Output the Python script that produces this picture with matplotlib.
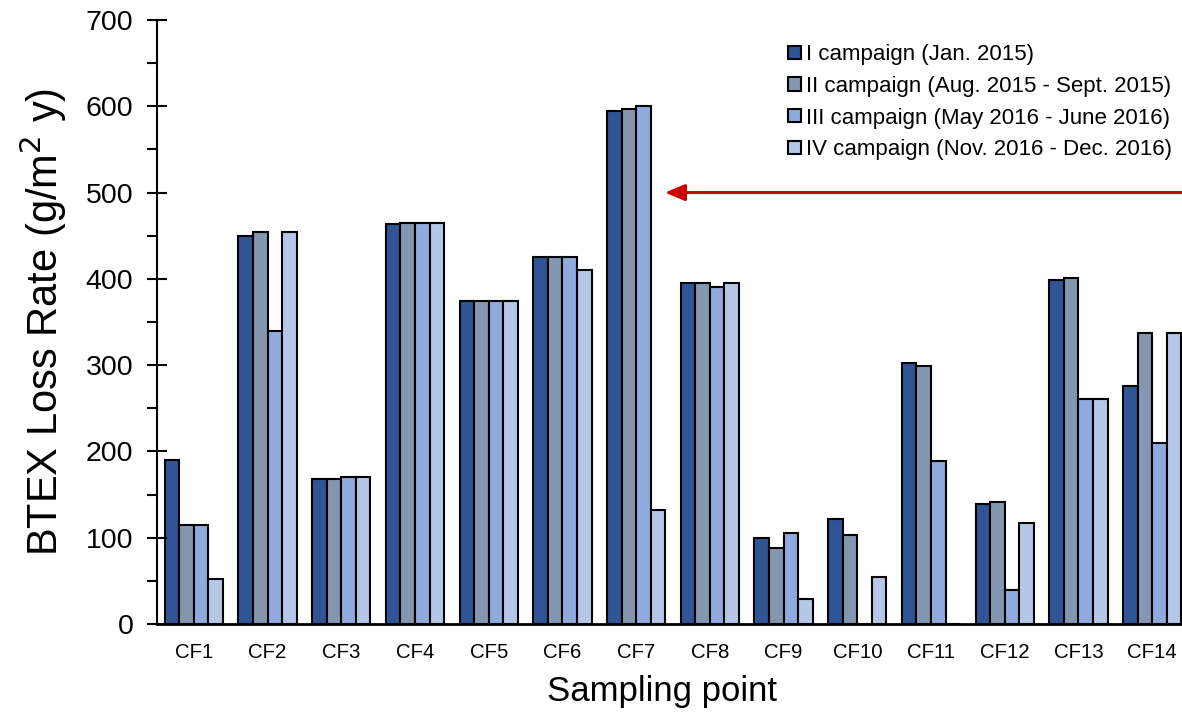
import matplotlib.pyplot as plt
import numpy as np

plt.rcParams['font.family'] = ['Liberation Sans', 'DejaVu Sans']

sites = ["CF1", "CF2", "CF3", "CF4", "CF5", "CF6", "CF7",
         "CF8", "CF9", "CF10", "CF11", "CF12", "CF13", "CF14"]

camp1 = [190, 450, 168, 463, 374, 425, 595, 395, 100, 122, 303, 139, 399, 276]
camp2 = [115, 454, 168, 465, 374, 425, 597, 395, 88, 103, 299, 141, 401, 337]
camp3 = [115, 340, 170, 465, 374, 425, 600, 391, 105, 0, 189, 39, 261, 210]
camp4 = [52, 454, 170, 465, 374, 410, 132, 395, 29, 54, 0, 117, 261, 337]

labels = ["I campaign (Jan. 2015)",
          "II campaign (Aug. 2015 - Sept. 2015)",
          "III campaign (May 2016 - June 2016)",
          "IV campaign (Nov. 2016 - Dec. 2016)"]
colors = ["#2F5597", "#8497B0", "#8FAADC", "#B4C7E7"]

fig = plt.figure(figsize=(11.82, 7.17), dpi=100)
# plot runs a little past the right edge of the figure
ax = fig.add_axes([157 / 1182, 93 / 717, 1032 / 1182, 604 / 717])

x = np.arange(len(sites))
w = 0.198
for i, (vals, lab, c) in enumerate(zip([camp1, camp2, camp3, camp4], labels, colors)):
    ax.bar(x + (i - 1.5) * w, vals, width=w, color=c, edgecolor="black",
           linewidth=1.5, label=lab)

ax.set_xlim(-0.5, 13.5)
ax.set_ylim(0, 700)
ax.set_yticks(np.arange(0, 701, 100))
ax.set_yticks(np.arange(50, 700, 100), minor=True)
ax.set_xticks(x)
ax.set_xticklabels(sites)
ax.tick_params(axis="y", which="major", direction="inout", length=14, width=1.5,
               labelsize=20.5, pad=10)
ax.tick_params(axis="y", which="minor", direction="out", length=7, width=1.5)
ax.tick_params(axis="x", length=0, labelsize=14.7, pad=14)

for s in ["top", "right"]:
    ax.spines[s].set_visible(False)
ax.spines["left"].set_linewidth(1.5)
ax.spines["bottom"].set_linewidth(2)

ax.set_ylabel("BTEX Loss Rate (g/m$^2$ y)", fontsize=30, labelpad=12)
ax.set_xlabel("Sampling point", fontsize=25)
ax.xaxis.set_label_coords(0.489, -0.084)

ax.annotate("", xy=(6.39, 500), xytext=(14, 500),
            arrowprops=dict(arrowstyle="-|>,head_length=1.2,head_width=0.5",
                            color="#CC0000", lw=2.2, shrinkA=0, shrinkB=0))

leg = ax.legend(loc="upper right", bbox_to_anchor=(1.003, 0.993), frameon=False,
                fontsize=16, handlelength=0.55, handleheight=0.55,
                handletextpad=0.25, labelspacing=0.48)

fig.savefig("out.png", dpi=100)
